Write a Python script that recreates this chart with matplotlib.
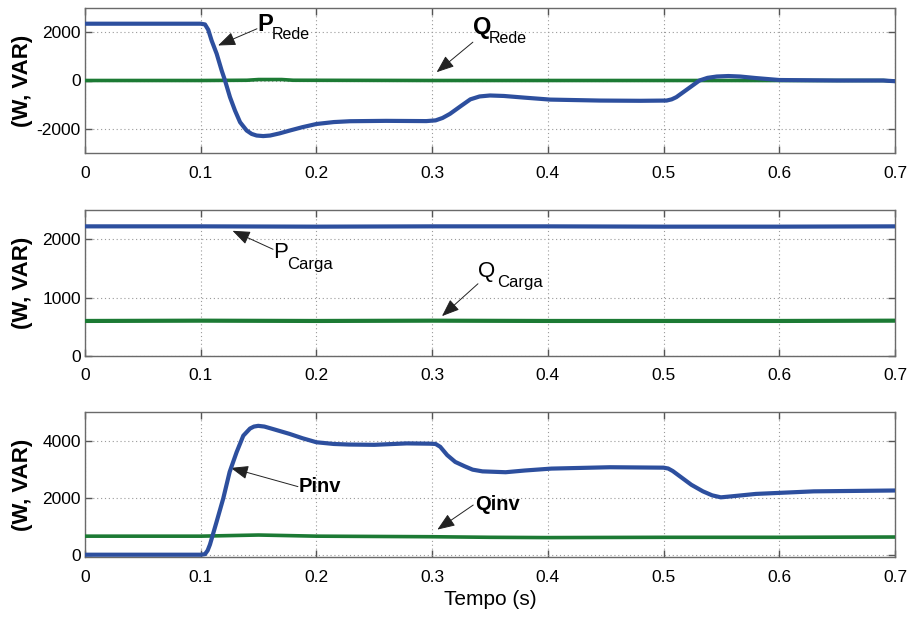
import matplotlib
matplotlib.use("Agg")
import matplotlib.pyplot as plt

plt.rcParams['font.family'] = ['Liberation Sans', 'DejaVu Sans']

# ---------------- data ----------------
# Panel 1: grid powers
t_prede = [0.0, 0.100, 0.1037, 0.1065, 0.1094, 0.1138, 0.1181, 0.121, 0.1253, 0.1296,
           0.134, 0.1397, 0.144, 0.1483, 0.154, 0.16, 0.168, 0.177, 0.188, 0.2,
           0.215, 0.229, 0.26, 0.295, 0.303, 0.309, 0.3154, 0.325, 0.333, 0.341,
           0.35, 0.362, 0.38, 0.402, 0.445, 0.48, 0.5026, 0.507, 0.511, 0.52,
           0.531, 0.538, 0.546, 0.556, 0.566, 0.58, 0.6, 0.65, 0.69, 0.7]
p_rede = [2350, 2350, 2320, 2100, 1656, 1105, 414, 0, -690, -1242,
          -1725, -2070, -2210, -2277, -2300, -2277, -2190, -2070, -1930, -1800,
          -1720, -1685, -1670, -1680, -1650, -1550, -1380, -1050, -780, -660,
          -620, -640, -710, -790, -830, -840, -830, -780, -690, -380,
          0, 110, 165, 185, 165, 100, 20, 0, 0, -30]

t_qrede = [0.0, 0.1, 0.14, 0.15, 0.17, 0.18, 0.3, 0.5, 0.55, 0.6, 0.69, 0.7]
q_rede = [0, 0, 10, 40, 40, 10, 0, 0, 0, 0, 0, -30]

# Panel 2: load powers
t_carga = [0.0, 0.1, 0.2, 0.3, 0.4, 0.5, 0.6, 0.7]
p_carga = [2220, 2220, 2215, 2220, 2220, 2215, 2215, 2220]
q_carga = [600, 605, 600, 605, 600, 600, 600, 605]

# Panel 3: inverter powers
t_pinv = [0.0, 0.1, 0.1037, 0.106, 0.108, 0.1138, 0.1195, 0.125, 0.131, 0.1368,
          0.1426, 0.146, 0.1497, 0.155, 0.1627, 0.177, 0.188, 0.2, 0.215, 0.228,
          0.25, 0.278, 0.298, 0.303, 0.307, 0.313, 0.32, 0.328, 0.335, 0.3435,
          0.3635, 0.38, 0.403, 0.4537, 0.5, 0.504, 0.508, 0.514, 0.524, 0.534,
          0.542, 0.5495, 0.56, 0.5797, 0.6298, 0.7]
p_inv = [0, 0, 20, 150, 357, 1165, 1975, 2900, 3590, 4170,
         4420, 4490, 4515, 4490, 4400, 4230, 4080, 3940, 3880, 3860,
         3850, 3900, 3890, 3880, 3780, 3490, 3250, 3100, 2980, 2920,
         2890, 2950, 3017, 3065, 3050, 3020, 2930, 2750, 2450, 2220,
         2080, 2010, 2050, 2130, 2220, 2250]

t_qinv = [0.0, 0.1, 0.15, 0.2, 0.3, 0.35, 0.4, 0.5, 0.6, 0.7]
q_inv = [650, 650, 690, 650, 630, 610, 600, 610, 610, 620]

x_ticks = [0.0, 0.1, 0.2, 0.3, 0.4, 0.5, 0.6, 0.7]
x_ticklabels = ['0', '0.1', '0.2', '0.3', '0.4', '0.5', '0.6', '0.7']

# ---------------- style ----------------
BLUE = '#2d4f9e'
GREEN = '#1c7a34'
W, H = 911, 619
fig = plt.figure(figsize=(W / 100, H / 100), dpi=100)


def make_ax(top_px, bot_px):
    left, right = 85, 895
    return fig.add_axes([left / W, 1 - bot_px / H, (right - left) / W, (bot_px - top_px) / H])


def style(ax, ylim, yticks):
    ax.set_xlim(0, 0.7)
    ax.set_ylim(*ylim)
    ax.set_xticks(x_ticks)
    ax.set_xticklabels(x_ticklabels)
    ax.set_yticks(yticks)
    ax.set_yticklabels([str(v) for v in yticks])
    ax.grid(True, linestyle=(0, (1, 2.5)), color='#9a9a9a', linewidth=0.8)
    ax.tick_params(direction='in', top=True, right=True, length=5, width=1.0,
                   color='#555555', labelsize=12.5, labelcolor='black')
    ax.tick_params(axis='x', pad=9)
    ax.tick_params(axis='y', pad=3)
    for s in ax.spines.values():
        s.set_color('#6a6a6a')
        s.set_linewidth(1.0)
    ax.set_ylabel('(W, VAR)', fontsize=16, fontweight='bold')
    ax.yaxis.set_label_coords((33 - 85) / 810, 0.5)


arrow = dict(arrowstyle='-|>,head_length=0.9,head_width=0.35', color='#222222',
             lw=0.7, mutation_scale=12, shrinkA=0, shrinkB=0)

# Panel 1
ax1 = make_ax(8, 153)
ax1.plot(t_qrede, q_rede, color=GREEN, lw=2.6, zorder=3, solid_joinstyle='round')
ax1.plot(t_prede, p_rede, color=BLUE, lw=3.0, zorder=4, solid_joinstyle='round')
style(ax1, (-3000, 3000), [-2000, 0, 2000])
ax1.annotate('', xy=(0.115, 1449), xytext=(0.1486, 2140), arrowprops=arrow)
ax1.text(0.1486, 2319, 'P', fontsize=17, fontweight='bold', ha='left', va='center')
ax1.text(0.161, 1917, 'Rede', fontsize=11.5, ha='left', va='center')
ax1.annotate('', xy=(0.3039, 344), xytext=(0.3352, 1586), arrowprops=arrow)
ax1.text(0.3355, 2207, 'Q', fontsize=17, fontweight='bold', ha='left', va='center')
ax1.text(0.3485, 1725, 'Rede', fontsize=11.5, ha='left', va='center')

# Panel 2
ax2 = make_ax(210, 356)
ax2.plot(t_carga, p_carga, color=BLUE, lw=3.0, zorder=4)
ax2.plot(t_carga, q_carga, color=GREEN, lw=3.0, zorder=3)
style(ax2, (0, 2500), [0, 1000, 2000])
ax2.annotate('', xy=(0.1275, 2144), xytext=(0.1625, 1827), arrowprops=arrow)
ax2.text(0.1625, 1775, 'P', fontsize=16, ha='left', va='center')
ax2.text(0.1745, 1560, 'Carga', fontsize=12, ha='left', va='center')
ax2.annotate('', xy=(0.3085, 683), xytext=(0.3396, 1237), arrowprops=arrow)
ax2.text(0.3396, 1440, 'Q', fontsize=16, ha='left', va='center')
ax2.text(0.356, 1255, 'Carga', fontsize=12, ha='left', va='center')

# Panel 3
ax3 = make_ax(412, 557)
ax3.plot(t_qinv, q_inv, color=GREEN, lw=2.6, zorder=3, solid_joinstyle='round')
ax3.plot(t_pinv, p_inv, color=BLUE, lw=3.0, zorder=4, solid_joinstyle='round')
style(ax3, (-80, 5000), [0, 2000, 4000])
ax3.annotate('', xy=(0.126, 3042), xytext=(0.184, 2386), arrowprops=arrow)
ax3.text(0.185, 2397, 'Pinv', fontsize=14.5, fontweight='bold', ha='left', va='center')
ax3.annotate('', xy=(0.3045, 880), xytext=(0.3355, 1740), arrowprops=arrow)
ax3.text(0.337, 1772, 'Qinv', fontsize=14.5, fontweight='bold', ha='left', va='center')
ax3.set_xlabel('Tempo (s)', fontsize=15, labelpad=4)

fig.savefig('out.png', dpi=100)
